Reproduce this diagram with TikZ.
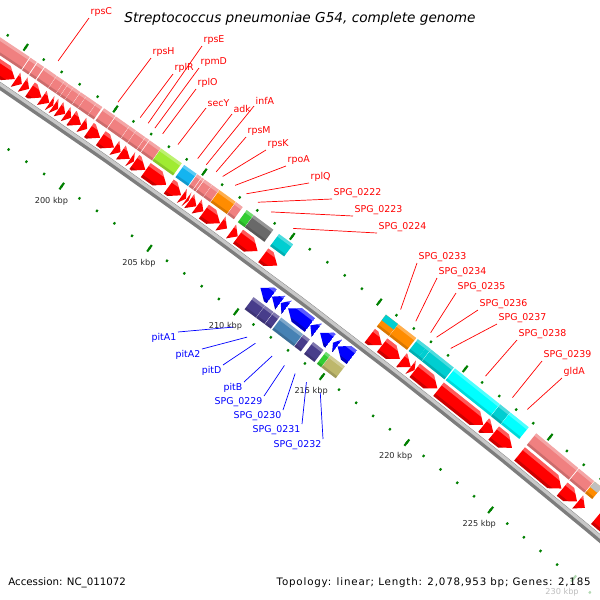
\documentclass[tikz,border=0pt]{standalone}
\usepackage{fontspec}
\setmainfont{DejaVu Sans}
\usepackage{tikz}

\definecolor{fwdred}{RGB}{255,0,0}
\definecolor{revblue}{RGB}{0,0,255}
\definecolor{tickgreen}{RGB}{0,128,0}
\definecolor{tickgrey}{RGB}{40,40,40}
\definecolor{backdark}{RGB}{125,125,125}
\definecolor{backlight}{RGB}{200,200,200}
\definecolor{cogpink}{RGB}{240,128,128}
\definecolor{cogyg}{RGB}{160,235,50}
\definecolor{cogsky}{RGB}{20,180,240}
\definecolor{cogorange}{RGB}{255,140,0}
\definecolor{coglime}{RGB}{50,205,50}
\definecolor{coggrey}{RGB}{105,105,105}
\definecolor{cogteal}{RGB}{0,206,209}
\definecolor{cogcyan}{RGB}{0,255,255}
\definecolor{cogslate}{RGB}{72,61,139}
\definecolor{cogsteel}{RGB}{70,130,180}
\definecolor{cogkhaki}{RGB}{189,183,107}
\definecolor{cogsilver}{RGB}{192,192,192}

\begin{document}
\begin{tikzpicture}[x=0.025cm, y=0.025cm,
    genelabel/.style = {font = {\fontsize{6.7}{8}\selectfont}, inner sep=1pt},
    fwdlabel/.style = {genelabel, text=fwdred, anchor=south west},
    revlabel/.style = {genelabel, text=revblue, anchor=north east},
    fwdline/.style = {draw=fwdred, line width=0.5pt},
    revline/.style = {draw=revblue, line width=0.5pt},
    tickmark/.style = {draw=tickgreen, line width=1.5pt},
    ticklabel/.style = {font = {\fontsize{5.8}{7}\selectfont}, text=tickgrey, inner sep=0pt},
    legend/.style = {font = {\fontsize{7.3}{9}\selectfont}, black, inner sep=0pt},
    backbone/.style = {draw=backdark, line width=5pt},
    backtop/.style = {draw=backlight, line width=2.3pt}]

    \useasboundingbox (0,0) rectangle (600,-600);
    \clip (0,0) rectangle (600,-600);
    \fill[white] (0,0) rectangle (600,-600);

    \begin{scope}[shift={(-4006.5,-6021.7)}]
        \draw[backbone] plot[domain=184:241, samples=58] ({89.7486-0.173164*\x}:7161.5);
        \draw[backtop] plot[domain=184:241, samples=58] ({89.7486-0.173164*\x}:7163);

        \foreach \k in {186,...,240}{
            \pgfmathsetmacro\ang{89.7486-0.173164*\k}
            \draw[tickmark] (\ang:7112.8) -- (\ang:7115.2);
            \draw[tickmark] (\ang:7206.8) -- (\ang:7209.2);
        }
        \foreach \k in {190,195,...,240}{
            \pgfmathsetmacro\ang{89.7486-0.173164*\k}
            \draw[tickmark] (\ang:7110) -- (\ang:7118);
            \draw[tickmark] (\ang:7204) -- (\ang:7212);
        }
        \foreach \k in {200,205,...,230}
            \node[ticklabel] (t\k) at ({89.7486-0.173164*\k}:7096) {\k\ kbp};

        \foreach \s/\e/\col in {193.6/195.4/cogpink, 195.45/195.8/cogpink, 195.85/196.2/cogpink,
            196.25/196.9/cogpink, 196.92/197.33/cogpink, 197.35/197.55/cogpink, 197.57/197.83/cogpink,
            197.85/198.22/cogpink, 198.25/198.55/cogpink, 198.57/199.11/cogpink, 199.13/199.45/cogpink,
            199.55/200.17/cogpink, 200.21/200.96/cogpink, 200.98/201.33/cogpink, 201.35/201.85/cogpink,
            201.87/202.07/cogpink, 202.11/202.73/cogpink, 202.76/203.92/cogyg, 204.06/204.76/cogsky,
            204.8/205.03/cogpink, 205.06/205.18/cogpink, 205.22/205.62/cogpink, 205.64/206.02/cogpink,
            206.05/206.97/cogorange, 206.99/207.37/cogpink, 207.6/207.98/coglime, 208.0/209.12/coggrey,
            209.45/210.25/cogteal, 215.6/216.3/cogorange, 216.32/217.35/cogorange, 217.45/217.98/cogteal,
            217.98/218.2/cogteal, 218.22/219.55/cogteal, 219.62/222.26/cogcyan, 222.28/222.85/cogteal,
            222.87/223.95/cogcyan, 224.4/226.9/cogpink, 226.95/227.84/cogpink, 227.88/228.3/cogorange,
            229.0/230.2/cogpink}{
            \pgfmathsetmacro\aS{89.7486-0.173164*\s}
            \pgfmathsetmacro\aE{89.7486-0.173164*\e}
            \pgfmathsetmacro\aT{89.7486-0.173164*max(\s,\e-0.5)}
            \begin{scope}
                \clip (\aS:7167) -- (\aS:7184) -- (\aT:7184) -- (\aE:7175.5) -- (\aT:7167) -- cycle;
                \fill[fwdred] (\aS:7160) -- (\aS:7190) -- (\aE:7190) -- (\aE:7160) -- cycle;
                \fill[white, opacity=.35] (\aS:7180.5) -- (\aS:7190) -- (\aE:7190) -- (\aE:7180.5) -- cycle;
                \fill[black, opacity=.2] (\aS:7160) -- (\aS:7170) -- (\aE:7170) -- (\aE:7160) -- cycle;
            \end{scope}
            \fill[\col] (\aS:7187) -- (\aS:7202) -- (\aE:7202) -- (\aE:7187) -- cycle;
            \fill[white, opacity=.3] (\aS:7199) -- (\aS:7202) -- (\aE:7202) -- (\aE:7199) -- cycle;
            \fill[black, opacity=.15] (\aS:7187) -- (\aS:7189.5) -- (\aE:7189.5) -- (\aE:7187) -- cycle;
        }
        \fill[cogteal] ({89.7486-0.173164*215.6}:7195) -- ({89.7486-0.173164*215.6}:7202)
            -- ({89.7486-0.173164*216.3}:7202) -- ({89.7486-0.173164*216.3}:7195) -- cycle;
        \fill[cogsilver] ({89.7486-0.173164*227.88}:7195) -- ({89.7486-0.173164*227.88}:7202)
            -- ({89.7486-0.173164*228.3}:7202) -- ({89.7486-0.173164*228.3}:7195) -- cycle;

        \foreach \s/\e/\col in {210.24/210.89/cogslate, 210.91/211.39/cogslate, 211.41/211.75/cogslate,
            211.84/213.1/cogsteel, 213.13/213.5/cogslate, 213.7/214.3/cogslate, 214.45/214.7/coglime,
            214.72/215.55/cogkhaki}{
            \pgfmathsetmacro\aS{89.7486-0.173164*\s}
            \pgfmathsetmacro\aE{89.7486-0.173164*\e}
            \pgfmathsetmacro\aT{89.7486-0.173164*min(\e,\s+0.5)}
            \begin{scope}
                \clip (\aS:7147.5) -- (\aT:7156) -- (\aE:7156) -- (\aE:7139) -- (\aT:7139) -- cycle;
                \fill[revblue] (\aS:7132) -- (\aS:7160) -- (\aE:7160) -- (\aE:7132) -- cycle;
                \fill[white, opacity=.35] (\aS:7152.5) -- (\aS:7160) -- (\aE:7160) -- (\aE:7152.5) -- cycle;
                \fill[black, opacity=.25] (\aS:7132) -- (\aS:7142) -- (\aE:7142) -- (\aE:7132) -- cycle;
            \end{scope}
            \fill[\col] (\aS:7121) -- (\aS:7136) -- (\aE:7136) -- (\aE:7121) -- cycle;
            \fill[white, opacity=.3] (\aS:7133) -- (\aS:7136) -- (\aE:7136) -- (\aE:7133) -- cycle;
            \fill[black, opacity=.15] (\aS:7121) -- (\aS:7123.5) -- (\aE:7123.5) -- (\aE:7121) -- cycle;
        }

        \foreach \n/\p in {rpsC/196.58, rpsH/199.91, rplR/201.15, rpsE/201.6, rpmD/201.98, rplO/202.42,
            secY/203.28, adk/204.39, infA/204.88, rpsM/205.43, rpsK/205.8, rpoA/206.5, rplQ/207.15,
            0222/207.8, 0223/208.55, 0224/209.82, 0233/215.99, 0234/216.87, 0235/217.73, 0236/218.07,
            0237/218.9, 0238/220.94, 0239/222.52, gldA/223.39}
            \coordinate (g-\n) at ({89.7486-0.173164*\p}:7215);
        \foreach \n/\p in {pitA1/210.32, pitA2/211.11, pitD/211.59, pitB/212.57, 0229/213.29,
            0230/213.92, 0231/214.58, 0232/215.4}
            \coordinate (g-\n) at ({89.7486-0.173164*\p}:7100);
    \end{scope}

    \foreach \n/\txt/\x/\y in {rpsC/rpsC/89/18, rpsH/rpsH/151/58, rpsE/rpsE/202/46, rpmD/rpmD/199/68,
        rplR/rplR/173/74, rplO/rplO/196/89, secY/secY/206/108, adk/adk/232/114, infA/infA/254/106,
        rpsM/rpsM/246/137, rpsK/rpsK/266/150, rpoA/rpoA/286/166, rplQ/rplQ/309/183,
        0222/SPG\_0222/332/199, 0223/SPG\_0223/353/216, 0224/SPG\_0224/377/233,
        0233/SPG\_0233/417/263, 0234/SPG\_0234/437/278, 0235/SPG\_0235/456/293,
        0236/SPG\_0236/478/310, 0237/SPG\_0237/497/324, 0238/SPG\_0238/517/340,
        0239/SPG\_0239/542/361, gldA/gldA/562/378}{
        \node[fwdlabel] (l-\n) at (\x,-\y) {\txt};
        \draw[fwdline] (l-\n.south west) -- (g-\n);
    }
    \foreach \n/\txt/\x/\y in {pitA1/pitA1/178/332, pitA2/pitA2/202/349, pitD/pitD/223/365,
        pitB/pitB/244/382, 0229/SPG\_0229/264/396, 0230/SPG\_0230/283/410,
        0231/SPG\_0231/302/424, 0232/SPG\_0232/323/439}{
        \node[revlabel] (l-\n) at (\x,-\y) {\txt};
        \draw[revline] (l-\n.north east) -- (g-\n);
    }

    \fill[white, opacity=.7] (0,-571) rectangle (600,-600);

    \node[font = {\fontsize{9.7}{12}\selectfont\itshape}, black, anchor=base] (title) at (300,-22.5)
        {Streptococcus pneumoniae G54, complete genome};
    \node[legend, anchor=base west] (accession) at (8,-585) {Accession: NC\_011072};
    \node[legend, anchor=base east] (topology) at (591,-585)
        {\addfontfeature{LetterSpace=8}Topology: linear; Length: 2,078,953 bp; Genes: 2,185};
\end{tikzpicture}
\end{document}
